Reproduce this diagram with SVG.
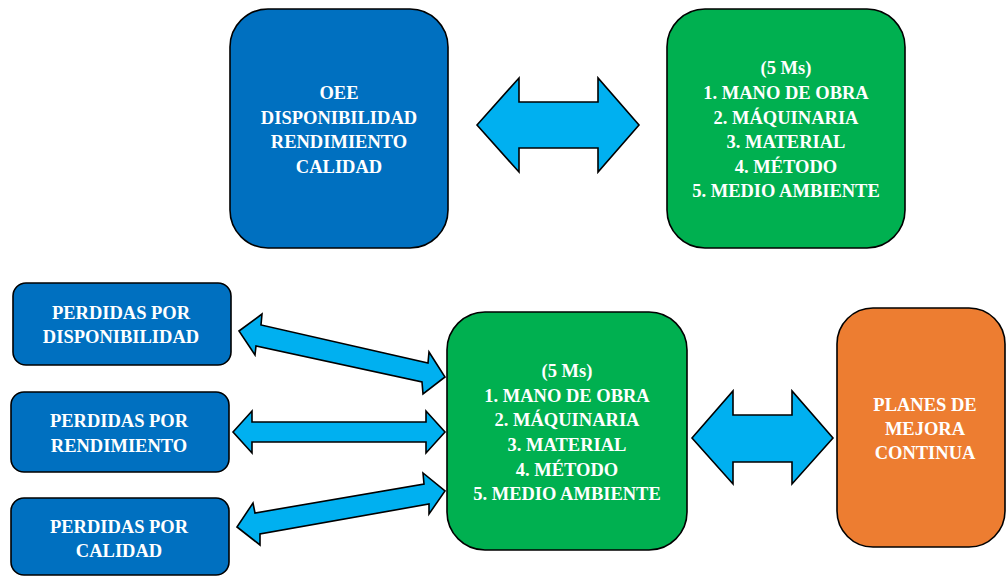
<svg xmlns="http://www.w3.org/2000/svg" width="1007" height="577" viewBox="0 0 1007 577">
  <style>
    .box { stroke: #000; stroke-width: 1.6; }
    .blue { fill: #0070C0; }
    .green { fill: #00B050; }
    .orange { fill: #ED7D31; }
    .arrow { fill: #00B0F0; stroke: #000; stroke-width: 1.6; stroke-linejoin: miter; }
    text { font-family: "Liberation Serif", "Times New Roman", serif; font-weight: bold; font-size: 18.5px; fill: #fff; text-anchor: middle; }
  </style>
  <rect width="1007" height="577" fill="#fff"/>

  <!-- connectors: double-headed block arrows -->
  <g id="connectors">
    <polygon class="arrow" points="477,125 519,78 519,102 598,102 598,78 639,125 598,172 598,148 519,148 519,172"/>
    <polygon class="arrow" points="239,331 262,314 261,325 428,363 429,352 445,377 423,394 422,382 256,346 255,355"/>
    <polygon class="arrow" points="233,432 252,411 252,422 426,422 426,411 445,432 426,453 426,442 252,442 252,453"/>
    <polygon class="arrow" points="237,527 253,503 255,513 424,484 423,473 445,491 429,514 429,504 260,534 260,545"/>
    <polygon class="arrow" points="692,438 733,391 733,415 792,415 792,391 833,438 792,484 792,462 733,462 733,484"/>
  </g>

  <g id="oee">
    <rect class="box blue" x="230" y="9" width="218" height="239" rx="38"/>
    <text x="339" y="99">OEE</text>
    <text x="339" y="123.5">DISPONIBILIDAD</text>
    <text x="339" y="148">RENDIMIENTO</text>
    <text x="339" y="172.5">CALIDAD</text>
  </g>

  <g id="cinco-ms-top">
    <rect class="box green" x="667" y="9" width="238" height="239" rx="38"/>
    <text x="786" y="74">(5 Ms)</text>
    <text x="786" y="99">1. MANO DE OBRA</text>
    <text x="786" y="123.5">2. MÁQUINARIA</text>
    <text x="786" y="148">3. MATERIAL</text>
    <text x="786" y="172.5">4. MÉTODO</text>
    <text x="786" y="197">5. MEDIO AMBIENTE</text>
  </g>

  <g id="perdidas-disponibilidad">
    <rect class="box blue" x="13" y="283" width="218" height="82" rx="13"/>
    <text x="121" y="319">PERDIDAS POR</text>
    <text x="121" y="343">DISPONIBILIDAD</text>
  </g>

  <g id="perdidas-rendimiento">
    <rect class="box blue" x="11" y="392" width="218" height="80" rx="13"/>
    <text x="119" y="427">PERDIDAS POR</text>
    <text x="119" y="451.5">RENDIMIENTO</text>
  </g>

  <g id="perdidas-calidad">
    <rect class="box blue" x="11" y="498" width="218" height="77" rx="13"/>
    <text x="119" y="533">PERDIDAS POR</text>
    <text x="119" y="557">CALIDAD</text>
  </g>

  <g id="cinco-ms">
    <rect class="box green" x="447" y="312" width="240" height="238" rx="38"/>
    <text x="567" y="377">(5 Ms)</text>
    <text x="567" y="401.5">1. MANO DE OBRA</text>
    <text x="567" y="426">2. MÁQUINARIA</text>
    <text x="567" y="451">3. MATERIAL</text>
    <text x="567" y="475.5">4. MÉTODO</text>
    <text x="567" y="500">5. MEDIO AMBIENTE</text>
  </g>

  <g id="planes-mejora">
    <rect class="box orange" x="837" y="308" width="168" height="239" rx="36"/>
    <text x="925" y="411">PLANES DE</text>
    <text x="925" y="435">MEJORA</text>
    <text x="925" y="459">CONTINUA</text>
  </g>
</svg>
